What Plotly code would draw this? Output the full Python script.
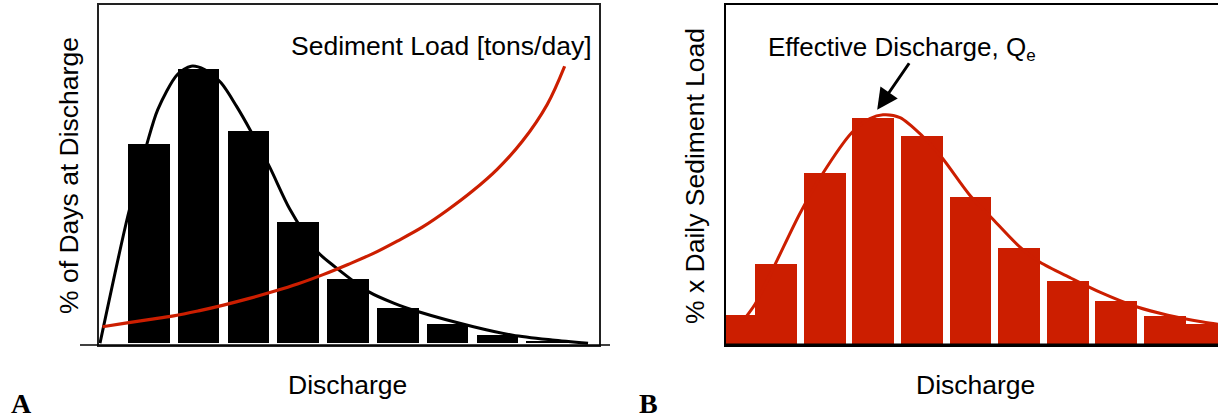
import plotly.graph_objects as go

# ---- Panel A: flow-duration histogram and sediment rating curve ----
days_bin = [1, 2, 3, 4, 5, 6, 7, 8, 9]
days_pct = [58.8, 81.2, 62.9, 36.0, 19.1, 10.3, 5.6, 2.6, 0.8]

days_fit_x = [0.02, 0.58, 0.96, 1.18, 1.57, 1.85, 2.12, 2.45, 2.76, 3.03, 3.43, 3.83,
              4.39, 4.74, 5.42, 5.93, 6.40, 7.52, 8.31, 9.10, 9.82]
days_fit_y = [0.0, 37.7, 58.8, 69.1, 79.4, 81.9, 80.9, 77.0, 70.1, 63.2, 52.0, 39.7,
              27.0, 22.6, 15.2, 11.8, 9.4, 4.9, 2.4, 1.0, 0.0]

load_x = [0.07, 0.5, 1.0, 1.5, 2.0, 2.5, 3.0, 3.5, 4.0, 4.5, 5.0, 5.5, 6.0, 6.5,
          7.0, 7.5, 8.0, 8.5, 9.0, 9.35]
load_y = [4.9, 5.9, 7.0, 8.1, 9.6, 11.3, 13.2, 15.3, 17.6, 20.3, 23.3, 26.5, 30.3, 34.4,
          39.4, 45.0, 51.5, 59.7, 70.6, 81.9]

# ---- Panel B: effective-discharge histogram ----
eff_bin = [0, 1, 2, 3, 4, 5, 6, 7, 8, 9, 10]
eff_val = [8.5, 23.5, 50.3, 66.8, 61.5, 43.5, 28.2, 18.5, 12.6, 8.2, 5.9]

eff_fit_x = [0.30, 0.57, 0.98, 1.49, 1.96, 2.56, 2.93, 3.20, 3.55, 4.00, 4.41, 4.99,
             5.42, 6.00, 6.43, 7.07, 7.66, 8.43, 9.06, 9.78, 10.2]
eff_fit_y = [6.5, 11.8, 23.5, 38.5, 50.3, 62.4, 66.5, 67.6, 66.8, 61.5, 55.0, 43.8,
             37.4, 28.8, 24.1, 19.4, 15.3, 10.9, 8.5, 6.5, 5.6]
peak_x, peak_y = 3.08, 69.1

RED = "rgb(204,30,0)"
FONT = "Liberation Sans, Arial, sans-serif"
W, H = 1218, 419


def px(x):
    return x / W


def py(y):
    return 1 - y / H


fig = go.Figure()

fig.add_trace(go.Bar(x=days_bin, y=days_pct, width=0.835, marker=dict(color="black", line_width=0),
                     xaxis="x", yaxis="y"))
fig.add_trace(go.Scatter(x=days_fit_x, y=days_fit_y, mode="lines",
                         line=dict(color="black", width=3, shape="spline", smoothing=0.8),
                         xaxis="x", yaxis="y"))
fig.add_trace(go.Scatter(x=load_x, y=load_y, mode="lines",
                         line=dict(color=RED, width=3.2, shape="spline", smoothing=1.0),
                         xaxis="x", yaxis="y"))

# the outermost bins abut their neighbours and run under the frame
eff_width = [1.15] + [0.86] * 9 + [1.15]
fig.add_trace(go.Scatter(x=eff_fit_x, y=eff_fit_y, mode="lines",
                         line=dict(color=RED, width=3, shape="spline", smoothing=0.8),
                         xaxis="x2", yaxis="y2"))
fig.add_trace(go.Bar(x=eff_bin, y=eff_val, width=eff_width, marker=dict(color=RED, line_width=0),
                     xaxis="x2", yaxis="y2"))

axis_common = dict(showgrid=False, zeroline=False, showticklabels=False, ticks="")

fig.update_layout(
    width=W, height=H,
    margin=dict(l=0, r=0, t=0, b=0),
    paper_bgcolor="white", plot_bgcolor="white",
    showlegend=False,
    font=dict(family=FONT, color="black"),
    xaxis=dict(domain=[px(99), px(599)], range=[0, 10.04], showline=True, linecolor="#222",
               linewidth=2, mirror=True, **axis_common),
    yaxis=dict(domain=[py(345), py(5)], range=[-0.5, 100], showline=True, linecolor="#222",
               linewidth=2, mirror=True, **axis_common),
    xaxis2=dict(domain=[px(726), 1.0], range=[-0.03, 10.09], showline=True, linecolor="black",
                linewidth=2, mirror=True, **axis_common),
    yaxis2=dict(domain=[py(345), py(5)], range=[-0.3, 100], anchor="x2", showline=True,
                linecolor="black", linewidth=2, mirror=False, **axis_common),
    bargap=0,
)

shapes = [
    # baseline of panel A extends slightly past the frame
    dict(type="line", xref="paper", yref="paper", x0=px(80), x1=px(610), y0=py(345), y1=py(345),
         line=dict(color="black", width=1.5)),
    # heavier baseline for panel B
    dict(type="line", xref="paper", yref="paper", x0=px(726), x1=1.0, y0=py(345), y1=py(345),
         line=dict(color="black", width=3)),
]
fig.update_layout(shapes=shapes)

SERIF = "Liberation Serif, Times New Roman, serif"
ann = [
    dict(text="Sediment Load [tons/day]", xref="paper", yref="paper", x=px(594), y=py(46),
         xanchor="right", yanchor="middle", showarrow=False, font=dict(size=26.5)),
    dict(text="% of Days at Discharge", xref="paper", yref="paper", x=px(69), y=py(176),
         textangle=-90, xanchor="center", yanchor="middle", showarrow=False, font=dict(size=26.5)),
    dict(text="Discharge", xref="paper", yref="paper", x=px(347), y=py(385),
         xanchor="center", yanchor="middle", showarrow=False, font=dict(size=26.5)),
    dict(text="A", xref="paper", yref="paper", x=px(21), y=py(403),
         xanchor="center", yanchor="middle", showarrow=False,
         font=dict(size=28, family=SERIF, weight="bold")),
    dict(text="% x Daily Sediment Load", xref="paper", yref="paper", x=px(695), y=py(176),
         textangle=-90, xanchor="center", yanchor="middle", showarrow=False, font=dict(size=26.5)),
    dict(text="Discharge", xref="paper", yref="paper", x=px(975), y=py(385),
         xanchor="center", yanchor="middle", showarrow=False, font=dict(size=26.5)),
    dict(text="B", xref="paper", yref="paper", x=px(648), y=py(403),
         xanchor="center", yanchor="middle", showarrow=False,
         font=dict(size=28, family=SERIF, weight="bold")),
    dict(text="Effective Discharge, Q<sub><span style='font-size:17px'>e</span></sub>",
         xref="paper", yref="paper", x=px(766), y=py(48),
         xanchor="left", yanchor="middle", showarrow=False, font=dict(size=26)),
    dict(text="", xref="x2", yref="y2", x=peak_x, y=peak_y, ax=33, ay=-48,
         showarrow=True, arrowhead=2, arrowsize=1.4, arrowwidth=3, arrowcolor="black"),
]
fig.update_layout(annotations=ann)

fig.write_html("out.html")
